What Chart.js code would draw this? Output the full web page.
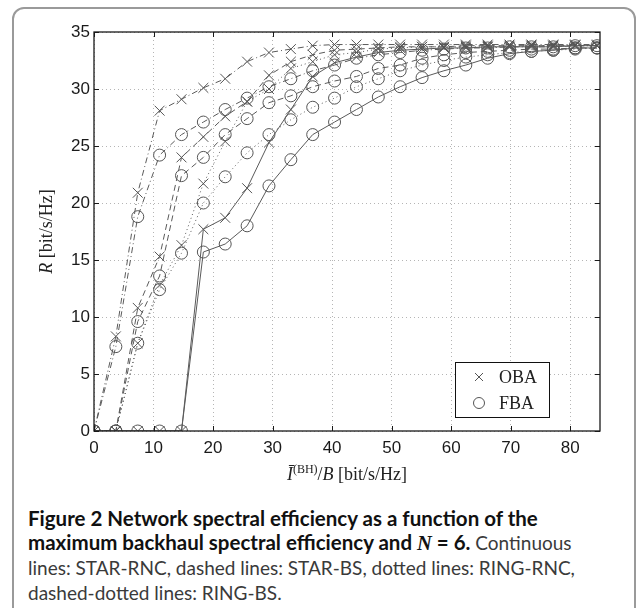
<!DOCTYPE html>
<html>
<head>
<meta charset="utf-8">
<script src="https://cdn.jsdelivr.net/npm/chart.js@4/dist/chart.umd.min.js"></script>
<style>
  html, body { margin: 0; padding: 0; background: #fff; overflow: hidden; }
  body { width: 637px; height: 608px; position: relative; }
  #frame {
    position: absolute; left: 12px; top: 7px; width: 620px; height: 640px;
    border: 2px solid #9a9a9a; border-radius: 12px;
  }
  #chartBox { position: absolute; left: 0; top: 0; width: 637px; height: 500px; }
  #caption {
    position: absolute; left: 28px; top: 506px; width: 610px; white-space: nowrap;
    font-family: Lato, "Noto Sans", sans-serif; font-size: 20.5px; line-height: 24px;
    color: #3a3a3a;
  }
  #caption b { color: #111; }
  #caption .plain { font-size: 19px; }
</style>
</head>
<body>
<div id="frame"></div>
<div id="chartBox"><canvas id="effChart" width="637" height="500"></canvas></div>
<div id="caption"><b>Figure 2 Network spectral efficiency as a function of the</b><br><b>maximum backhaul spectral efficiency and <i style="font-family:'Liberation Serif',serif">N</i> = 6.</b><span class="plain"> Continuous<br>lines: STAR-RNC, dashed lines: STAR-BS, dotted lines: RING-RNC,<br>dashed-dotted lines: RING-BS.</span></div>

<script>
// backhaul spectral efficiency (x)
const xValues = [0, 3.67, 7.35, 11.02, 14.7, 18.37, 22.04, 25.72, 29.39, 33.07, 36.74, 40.41,
  44.09, 47.76, 51.43, 55.11, 58.78, 62.46, 66.13, 69.8, 73.48, 77.15, 80.83, 84.5];

// network spectral efficiency R
const starRncOba = [0, 0, 0, 0, 0, 17.7, 18.7, 21.3, 25.3, 28.2, 31.1, 32.3, 32.8, 33.2, 33.4, 33.5, 33.6, 33.6, 33.7, 33.7, 33.7, 33.7, 33.8, 33.8];
const starRncFba = [0, 0, 0, 0, 0, 15.7, 16.4, 18.0, 21.5, 23.8, 26.0, 27.1, 28.2, 29.3, 30.2, 31.0, 31.6, 32.1, 32.7, 33.1, 33.3, 33.4, 33.6, 33.6];
const starBsOba = [0, 0, 10.8, 15.3, 24.0, 25.8, 27.6, 28.9, 31.2, 32.4, 33.0, 33.4, 33.5, 33.6, 33.7, 33.7, 33.7, 33.8, 33.8, 33.8, 33.8, 33.8, 33.8, 33.8];
const starBsFba = [0, 0, 9.6, 13.6, 22.4, 24.0, 26.0, 27.4, 28.8, 29.4, 30.2, 30.7, 31.1, 31.8, 32.1, 32.7, 33.0, 33.2, 33.3, 33.4, 33.5, 33.5, 33.6, 33.6];
const ringRncOba = [0, 0, 7.7, 12.8, 16.3, 21.7, 25.4, 28.9, 30.0, 31.8, 32.4, 33.0, 33.2, 33.5, 33.6, 33.7, 33.7, 33.7, 33.7, 33.7, 33.8, 33.8, 33.8, 33.8];
const ringRncFba = [0, 0, 7.7, 12.4, 15.6, 20.0, 22.3, 24.4, 26.0, 27.3, 28.4, 29.2, 30.2, 30.9, 31.6, 32.1, 32.5, 32.8, 33.0, 33.2, 33.3, 33.4, 33.5, 33.6];
const ringBsOba = [0, 8.3, 20.9, 28.1, 29.1, 30.1, 30.9, 32.4, 33.2, 33.5, 33.8, 33.9, 33.9, 33.9, 33.9, 33.9, 33.9, 33.9, 33.9, 33.9, 33.9, 33.9, 33.9, 33.9];
const ringBsFba = [0, 7.4, 18.8, 24.2, 26.0, 27.1, 28.2, 29.2, 30.2, 30.9, 31.6, 32.1, 32.7, 33.0, 33.2, 33.4, 33.5, 33.6, 33.6, 33.7, 33.7, 33.7, 33.8, 33.8];

const xTicks = [0, 10, 20, 30, 40, 50, 60, 70, 80];
const yTicks = [0, 5, 10, 15, 20, 25, 30, 35];
const legendLabels = ['OBA', 'FBA'];

const SOLID = [];
const DASHED = [6, 4];
const DOTTED = [1, 3];
const DASHDOT = [6, 3, 1, 3];

function series(label, values, dash, marker) {
  return {
    label,
    data: values.map((v, i) => ({ x: xValues[i], y: v })),
    showLine: true,
    borderColor: '#5a5a5a',
    borderWidth: 1,
    borderDash: dash,
    pointStyle: marker,
    pointRadius: marker === 'circle' ? 6 : 7,
    pointBorderColor: '#555',
    pointBackgroundColor: 'rgba(0,0,0,0)',
    pointBorderWidth: 1,
    pointHoverRadius: 0
  };
}

const frameAndLabels = {
  id: 'frameAndLabels',
  afterDatasetsDraw(chart) {
    const { ctx, chartArea: a, scales: { x, y } } = chart;
    ctx.save();
    ctx.strokeStyle = '#1a1a1a';
    ctx.lineWidth = 1;
    ctx.setLineDash([]);

    // inward ticks
    ctx.beginPath();
    xTicks.forEach(v => {
      const px = Math.round(x.getPixelForValue(v)) + 0.5;
      ctx.moveTo(px, a.bottom); ctx.lineTo(px, a.bottom - 5);
      ctx.moveTo(px, a.top); ctx.lineTo(px, a.top + 5);
    });
    yTicks.forEach(v => {
      const py = Math.round(y.getPixelForValue(v)) + 0.5;
      ctx.moveTo(a.left, py); ctx.lineTo(a.left + 5, py);
      ctx.moveTo(a.right, py); ctx.lineTo(a.right - 5, py);
    });
    ctx.stroke();

    ctx.lineWidth = 1.3;
    ctx.strokeRect(a.left, a.top, a.width, a.height);

    // legend
    const lx = 455, ly = 362, lw = 94, lh = 55;
    ctx.fillStyle = '#fff';
    ctx.fillRect(lx, ly, lw, lh);
    ctx.lineWidth = 1;
    ctx.strokeStyle = '#111';
    ctx.strokeRect(lx + 0.5, ly + 0.5, lw, lh);
    ctx.strokeStyle = '#555';
    ctx.beginPath();
    ctx.moveTo(475, 373); ctx.lineTo(483, 381);
    ctx.moveTo(483, 373); ctx.lineTo(475, 381);
    ctx.stroke();
    ctx.beginPath();
    ctx.arc(479, 403, 5.5, 0, Math.PI * 2);
    ctx.stroke();
    ctx.fillStyle = '#222';
    ctx.font = '18px "Liberation Serif", serif';
    ctx.textBaseline = 'middle';
    ctx.textAlign = 'left';
    ctx.fillText(legendLabels[0], 499, 378);
    ctx.fillText(legendLabels[1], 499, 404);

    // x axis title: Ī^(BH)/B [bit/s/Hz]
    const parts = [
      { t: 'Ī', f: 'italic 18px "Liberation Serif", serif', dy: 0 },
      { t: '(BH)', f: '12px "Liberation Serif", serif', dy: -7 },
      { t: '/', f: '18px "Liberation Serif", serif', dy: 0 },
      { t: 'B', f: 'italic 18px "Liberation Serif", serif', dy: 0 },
      { t: ' [bit/s/Hz]', f: '18px "Liberation Serif", serif', dy: 0 }
    ];
    let total = 0;
    parts.forEach(p => { ctx.font = p.f; p.w = ctx.measureText(p.t).width; total += p.w; });
    let cx = (a.left + a.right) / 2 - total / 2;
    ctx.textBaseline = 'alphabetic';
    parts.forEach(p => { ctx.font = p.f; ctx.fillText(p.t, cx, 480 + p.dy); cx += p.w; });

    // y axis title: R [bit/s/Hz]
    ctx.translate(52, (a.top + a.bottom) / 2);
    ctx.rotate(-Math.PI / 2);
    const yParts = [
      { t: 'R', f: 'italic 18px "Liberation Serif", serif' },
      { t: ' [bit/s/Hz]', f: '18px "Liberation Serif", serif' }
    ];
    total = 0;
    yParts.forEach(p => { ctx.font = p.f; p.w = ctx.measureText(p.t).width; total += p.w; });
    cx = -total / 2;
    yParts.forEach(p => { ctx.font = p.f; ctx.fillText(p.t, cx, 0); cx += p.w; });

    ctx.restore();
  }
};

const tickFont = { family: '"Liberation Sans", Arial, sans-serif', size: 17 };

new Chart(document.getElementById('effChart'), {
  type: 'scatter',
  data: {
    datasets: [
      series('STAR-RNC OBA', starRncOba, SOLID, 'crossRot'),
      series('STAR-RNC FBA', starRncFba, SOLID, 'circle'),
      series('STAR-BS OBA', starBsOba, DASHED, 'crossRot'),
      series('STAR-BS FBA', starBsFba, DASHED, 'circle'),
      series('RING-RNC OBA', ringRncOba, DOTTED, 'crossRot'),
      series('RING-RNC FBA', ringRncFba, DOTTED, 'circle'),
      series('RING-BS OBA', ringBsOba, DASHDOT, 'crossRot'),
      series('RING-BS FBA', ringBsFba, DASHDOT, 'circle')
    ]
  },
  options: {
    responsive: false,
    animation: false,
    events: [],
    layout: { padding: { left: 0, right: 37, top: 32, bottom: 39 } },
    plugins: { legend: { display: false }, tooltip: { enabled: false } },
    scales: {
      x: {
        type: 'linear',
        min: 0,
        max: 85,
        afterFit: s => { s.height = 30; },
        afterBuildTicks: s => { s.ticks = xTicks.map(v => ({ value: v })); },
        grid: { color: '#b5b5b5', lineWidth: 1, drawTicks: false },
        border: { display: false, dash: [1, 3] },
        ticks: { color: '#1a1a1a', font: tickFont, padding: 7, maxRotation: 0 }
      },
      y: {
        type: 'linear',
        min: 0,
        max: 35,
        afterFit: s => { s.width = 94; },
        afterBuildTicks: s => { s.ticks = yTicks.map(v => ({ value: v })); },
        grid: { color: '#b5b5b5', lineWidth: 1, drawTicks: false },
        border: { display: false, dash: [1, 3] },
        ticks: { color: '#1a1a1a', font: tickFont, padding: 4 }
      }
    }
  },
  plugins: [frameAndLabels]
});
</script>
</body>
</html>
